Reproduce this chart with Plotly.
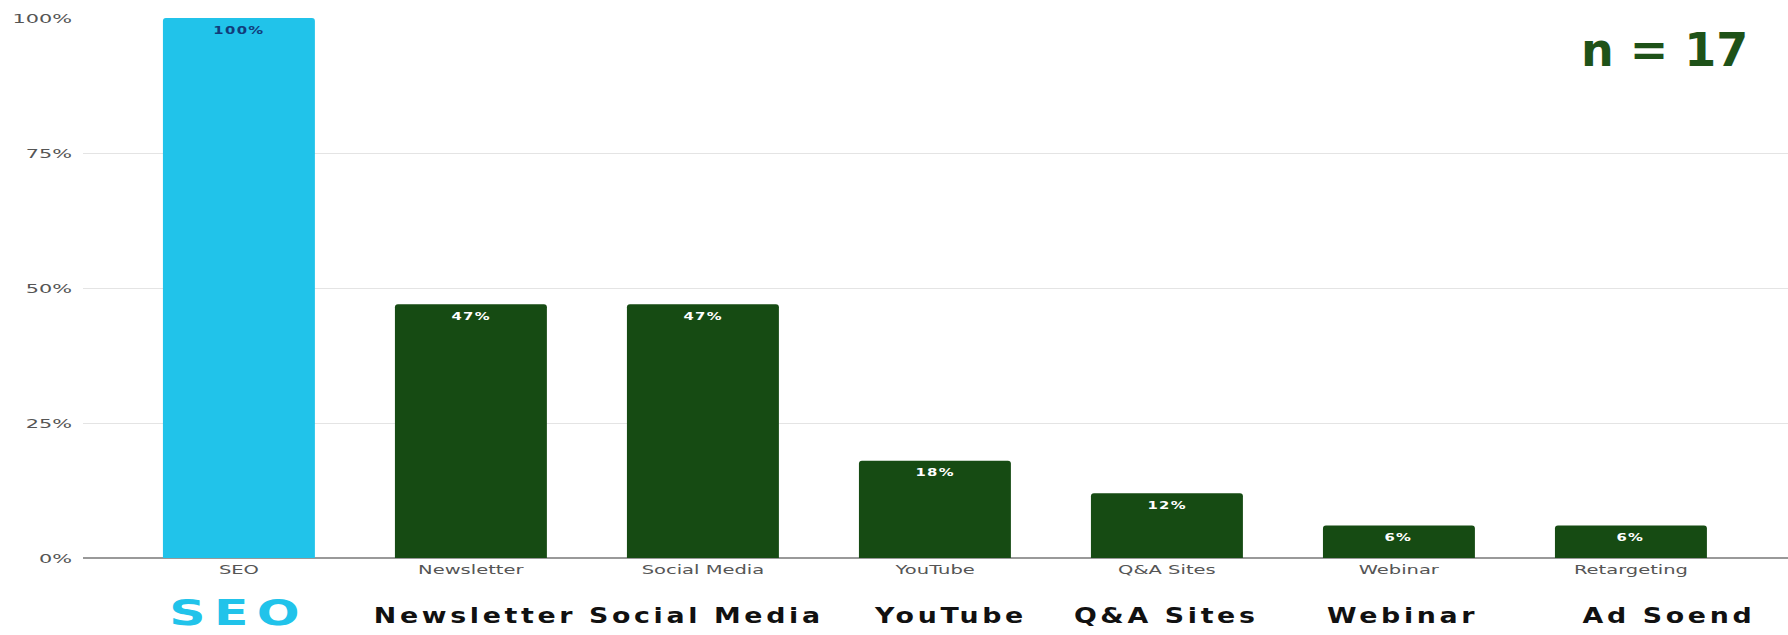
import plotly.graph_objects as go

# Channel shares (percent of respondents, n = 17)
categories = ["SEO", "Newsletter", "Social Media", "YouTube", "Q&A Sites", "Webinar", "Retargeting"]
values = [100, 47, 47, 18, 12, 6, 6]
big_labels = ["SEO", "Newsletter", "Social Media", "YouTube", "Q&A Sites", "Webinar", "Ad Soend"]
y_ticks = [0, 25, 50, 75, 100]
y_tick_text = ["0%", "25%", "50%", "75%", "100%"]
sample_note = "n = 17"

CYAN = "#21C3EA"
GREEN = "#164B13"

bar_colors = [CYAN] + [GREEN] * (len(categories) - 1)
label_colors = ["#123C7A"] + ["#FFFFFF"] * (len(categories) - 1)

fig = go.Figure()
fig.add_trace(go.Bar(
    x=list(range(len(categories))),
    y=values,
    marker=dict(color=bar_colors, line=dict(width=0)),
    width=0.655,
    hoverinfo="skip",
))

# value labels just inside the top of each bar
for i, v in enumerate(values):
    fig.add_annotation(
        x=i, y=v, xref="x", yref="y", text=f"{v}%", showarrow=False,
        xanchor="center", yanchor="middle", yshift=-12,
        font=dict(family="DejaVu Sans", size=11, color=label_colors[i], weight="bold"),
    )

# large bold captions under each category
caption_shift = [0, 4, 4, 16, 0, 4, 38]
for i, lab in enumerate(big_labels):
    first = i == 0
    fig.add_annotation(
        x=i, xref="x", y=-0.107, yref="paper",
        text=lab, showarrow=False, xanchor="center", yanchor="middle",
        xshift=caption_shift[i], yshift=3 if first else 0,
        font=dict(family="DejaVu Sans", size=36 if first else 22,
                  color=CYAN if first else "#111111", weight="bold"),
    )

# sample size note, top right
fig.add_annotation(
    x=(1750 - 83) / (1788 - 83), xref="paper",
    y=1 + (18 - 50) / 540, yref="paper",
    text=sample_note, showarrow=False, xanchor="right", yanchor="middle",
    font=dict(family="DejaVu Sans", size=46, color="#1E5218", weight="bold"),
)

fig.update_layout(
    width=1788, height=635, autosize=False,
    margin=dict(l=83, r=0, t=18, b=77),
    plot_bgcolor="white", paper_bgcolor="white",
    showlegend=False,
    barcornerradius=3,
    xaxis=dict(
        range=[-0.672, 6.677],
        tickmode="array", tickvals=list(range(len(categories))), ticktext=categories,
        tickfont=dict(family="DejaVu Sans", size=13, color="#555555"),
        showgrid=False, zeroline=False,
        showline=False, ticks="", ticklabelstandoff=2,
    ),
    yaxis=dict(
        range=[0, 100],
        tickmode="array", tickvals=y_ticks, ticktext=y_tick_text,
        tickfont=dict(family="DejaVu Sans", size=13, color="#555555"),
        showgrid=True, gridcolor="#E4E4E4", gridwidth=1,
        zeroline=True, zerolinecolor="#999999", zerolinewidth=1.5,
        showline=False, ticks="", ticklabelstandoff=10,
    ),
)

n_vals = len(values)
n_caps = len(big_labels)
post = """
// stretch a text horizontally about its centre (where=0.5) or right edge (where=1),
// keeping any transform the element already carries
function widen(t, s, where) {
  var b = t.getBBox();
  var cx = b.x + b.width * where;
  var orig = t.getAttribute('transform') || '';
  t.setAttribute('transform', orig + ' translate(' + cx + ',0) scale(' + s + ',1) translate(' + (-cx) + ',0)');
}
document.querySelectorAll('g.xtick text').forEach(function(t){ widen(t, 1.5, 0.5); });
document.querySelectorAll('g.ytick text').forEach(function(t){ widen(t, 1.6, 1); });
var anns = document.querySelectorAll('g.annotation text.annotation-text');
anns.forEach(function(t, k){
  if (k < NV) {
    t.setAttribute('letter-spacing', '1px');
    widen(t, 1.35, 0.5);
  } else if (k < NVC) {
    t.setAttribute('letter-spacing', k === NV ? '6px' : '3px');
    widen(t, k === NV ? 1.4 : 1.22, 0.5);
  }
});
""".replace("NVC", str(n_vals + n_caps)).replace("NV", str(n_vals))

fig.write_html("out.html", post_script=post)
